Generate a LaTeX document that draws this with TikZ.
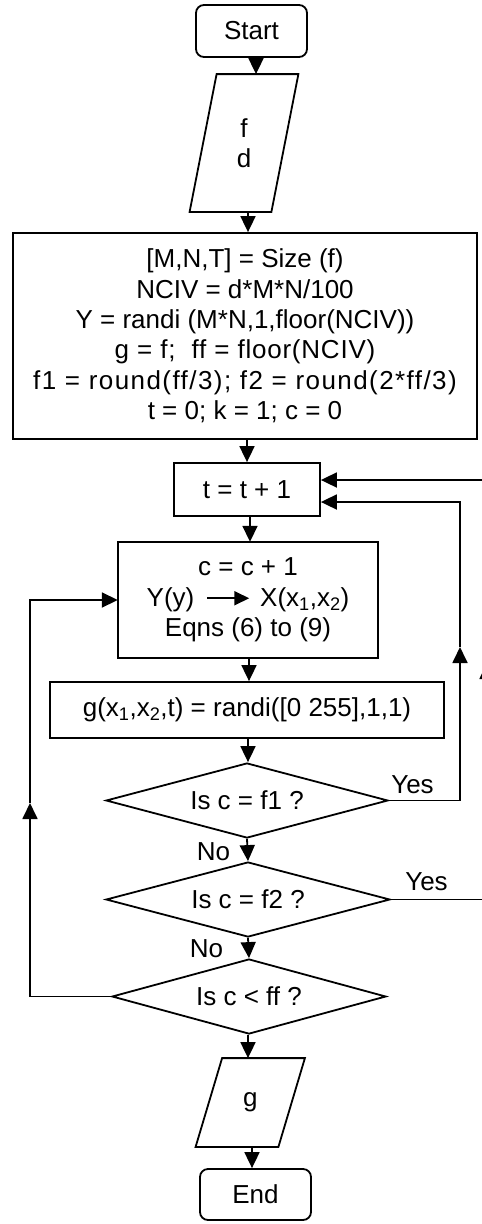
\documentclass[tikz,border=0pt]{standalone}
\usepackage{fontspec}
\setmainfont{Liberation Sans}
\usetikzlibrary{arrows.meta,shapes.geometric}
\newcommand\flowarrow{\tikz[baseline=-8pt]\draw[line width=1.8pt,-{Triangle[length=15pt,width=14pt]}] (0pt,0pt) -- (42pt,0pt);}
\begin{document}
\begin{tikzpicture}[x=1pt,y=-1pt,line width=1.8pt,
  every node/.style={font=\fontsize{26}{30.4}\selectfont, inner sep=0pt},
  box/.style={draw, align=center},
  term/.style={box, rounded corners=8pt, minimum width=111, minimum height=52},
  dia/.style={draw, diamond, aspect=3.76, align=center},
  arr/.style={-{Triangle[length=16pt,width=15pt]}},
  lbl/.style={align=center}]
\useasboundingbox (0,0) rectangle (482,1224);
\clip (0,0) rectangle (482,1224);
% nodes
\node[term] (start) at (251.5,31) {Start};
\node[lbl, minimum width=80, minimum height=136] (io1) at (244,143) {f\\d};
\draw ([xshift=13.5]io1.north west) -- ([xshift=13.5]io1.north east) -- ([xshift=-13.5]io1.south east) -- ([xshift=-13.5]io1.south west) -- cycle;
\node[box, minimum width=464, minimum height=206] (init) at (245,336)
  {[M,N,T] = Size (f)\\NCIV = d*M*N/100\\Y = randi (M*N,1,floor(NCIV))\\{\addfontfeature{LetterSpace=3}g = f;~ ff = floor(NCIV)}\\{\addfontfeature{LetterSpace=5.5}f1 = round(ff/3); f2 = round(2*ff/3)}\\t = 0; k = 1; c = 0};
\node[box, minimum width=146, minimum height=53] (tbox) at (247,489.5) {t = t + 1};
\node[box, minimum width=260, minimum height=116] (cbox) at (248,600)
  {c = c + 1\\Y(y)\hspace{12pt}\flowarrow\hspace{10pt}X(x\textsubscript{1},x\textsubscript{2})\\Eqns (6) to (9)};
\node[box, minimum width=394, minimum height=56] (gbox) at (247,710)
  {g(x\textsubscript{1},x\textsubscript{2},t) = randi([0 255],1,1)};
\node[dia, minimum width=282, minimum height=75] (d1) at (247,800.5) {Is c = f1 ?};
\node[dia, minimum width=284, minimum height=75] (d2) at (248,899.5) {Is c = f2 ?};
\node[dia, minimum width=274, minimum height=75] (d3) at (249,996.5) {Is c < ff ?};
\node[lbl, minimum width=81, minimum height=87] (out) at (250.25,1102.5) {g};
\draw ([xshift=13.25]out.north west) -- ([xshift=13.25]out.north east) -- ([xshift=-13.25]out.south east) -- ([xshift=-13.25]out.south west) -- cycle;
\node[term, minimum height=51] (end) at (255.5,1194.5) {End};
% labels
\node (yes1) at (412.5,785) {Yes};
\node (yes2) at (426.5,882) {Yes};
\node[anchor=east] (no1) at (231,852) {No};
\node[anchor=east] (no2) at (224,949) {No};
% helper coordinates
\coordinate (xa) at (256,0);
\coordinate (xb) at (248,0);
\coordinate (xc) at (247,0);
\coordinate (xd) at (250,0);
\coordinate (xe) at (249,0);
\coordinate (xf) at (252,0);
\coordinate (tin1) at (0,480);
\coordinate (tin2) at (0,502);
\coordinate (lmid) at (30,803);
\coordinate (r1mid) at (460,647);
\coordinate (r2mid) at (487,663);
% main flow
\draw[arr] (start.south -| xa) -- (io1.north -| xa);
\draw[arr] (io1.south -| xb) -- (init.north -| xb);
\draw[arr] (init.south -| xc) -- (tbox.north -| xc);
\draw[arr] (tbox.south -| xd) -- (cbox.north -| xd);
\draw[arr] (cbox.south -| xe) -- (gbox.north -| xe);
\draw[arr] (gbox.south -| xb) -- (d1.north -| xb);
\draw[arr] (d1.south) -- (d2.north);
\draw[arr] (d2.south) -- (d3.north);
\draw[arr] (d3.south -| xb) -- (out.north -| xb);
\draw[arr] (out.south -| xf) -- (end.north -| xf);
% loops
\draw[arr] (d3.west) -| (lmid);
\draw[arr] (lmid) |- (cbox.west);
\draw[arr] (d1.east) -| (r1mid);
\draw[arr] (r1mid) |- (tbox.east |- tin2);
\draw[arr] (d2.east) -| (r2mid);
\draw[arr] (r2mid) |- (tbox.east |- tin1);
\end{tikzpicture}
\end{document}
